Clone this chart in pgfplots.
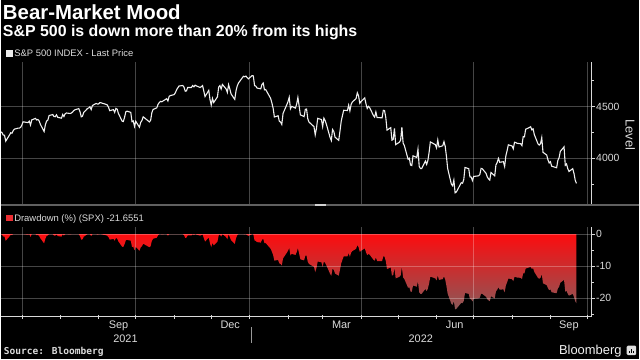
\documentclass[border=0pt]{standalone}
\usepackage{fontspec}
\setmainfont{Liberation Sans}
\newfontfamily\srcfont{DejaVu Sans Mono}
\usepackage{pgfplots}
\usepackage{pgfplotstable}
\pgfplotsset{compat=1.18}
\definecolor{txt}{gray}{0.86}
\definecolor{axc}{gray}{0.85}
\definecolor{ddtop}{RGB}{252,12,14}
\definecolor{ddbot}{RGB}{140,88,88}
\definecolor{ddleg}{RGB}{235,45,50}

\pgfplotstableread{
d p dd
-201 4255 0
-200 4247 -0.19
-199 4224 -0.73
-198 4222 -0.78
-197 4166 -2.09
-194 4224 -0.73
-193 4246 -0.21
-192 4242 -0.31
-191 4266 0
-190 4281 0
-187 4291 0
-186 4291 0
-185 4298 0
-184 4320 0
-183 4352 0
-179 4344 -0.18
-178 4358 0
-177 4320 -0.87
-176 4370 0
-173 4385 0
-172 4369 -0.36
-171 4374 -0.25
-170 4360 -0.57
-169 4327 -1.32
-166 4258 -2.90
-165 4323 -1.41
-164 4359 -0.59
-163 4368 -0.39
-162 4412 0
-159 4422 0
-158 4402 -0.45
-157 4401 -0.47
-156 4419 -0.07
-155 4395 -0.61
-152 4387 -0.79
-151 4423 0
-150 4403 -0.45
-149 4429 0
-148 4437 0
-145 4432 -0.11
-144 4436 -0.02
-143 4447 0
-142 4460 0
-141 4468 0
-138 4479 0
-137 4449 -0.67
-136 4400 -1.76
-135 4406 -1.63
-134 4442 -0.83
-131 4480 0
-130 4486 0
-129 4497 0
-128 4470 -0.60
-127 4509 0
-124 4529 0
-123 4523 -0.13
-122 4524 -0.11
-121 4537 0
-120 4535 -0.04
-116 4520 -0.37
-115 4514 -0.51
-114 4493 -0.97
-113 4459 -1.72
-110 4469 -1.50
-109 4443 -2.07
-108 4481 -1.23
-107 4474 -1.39
-106 4433 -2.29
-103 4358 -3.95
-102 4355 -4.01
-101 4396 -3.11
-100 4449 -1.94
-99 4455 -1.81
-96 4443 -2.07
-95 4353 -4.06
-94 4360 -3.90
-93 4308 -5.05
-92 4357 -3.97
-89 4300 -5.22
-88 4346 -4.21
-87 4364 -3.81
-86 4400 -3.02
-85 4391 -3.22
-82 4361 -3.88
-81 4351 -4.10
-80 4364 -3.81
-79 4438 -2.18
-78 4471 -1.45
-75 4486 -1.12
-74 4520 -0.37
-73 4537 0
-72 4549 0
-71 4545 -0.09
-68 4567 0
-67 4575 0
-66 4552 -0.50
-65 4597 0
-64 4605 0
-61 4614 0
-60 4631 0
-59 4660 0
-58 4680 0
-57 4697 0
-54 4702 0
-53 4686 -0.34
-52 4647 -1.17
-51 4650 -1.11
-50 4683 -0.40
-47 4683 -0.40
-46 4701 -0.02
-45 4689 -0.28
-44 4705 0
-43 4698 -0.15
-40 4683 -0.47
-39 4691 -0.30
-38 4701 -0.09
-36 4595 -2.34
-33 4655 -1.06
-32 4567 -2.93
-31 4513 -4.08
-30 4577 -2.72
-29 4538 -3.55
-26 4592 -2.40
-25 4686 -0.40
-24 4701 -0.09
-23 4668 -0.79
-22 4712 0
-19 4669 -0.91
-18 4635 -1.63
-17 4710 -0.04
-16 4669 -0.91
-15 4621 -1.93
-12 4568 -3.06
-11 4649 -1.34
-10 4697 -0.32
-9 4726 0
-5 4791 0
-4 4786 -0.10
-3 4793 0
-2 4778 -0.31
-1 4766 -0.56
2 4797 0
3 4794 -0.06
4 4701 -2.00
5 4696 -2.11
6 4677 -2.50
9 4670 -2.65
10 4713 -1.75
11 4726 -1.48
12 4660 -2.86
13 4663 -2.79
17 4577 -4.59
18 4533 -5.50
19 4483 -6.55
20 4398 -8.32
23 4410 -8.07
24 4357 -9.17
25 4350 -9.32
26 4326 -9.82
27 4432 -7.61
30 4516 -5.86
31 4546 -5.23
32 4589 -4.34
33 4477 -6.67
34 4501 -6.17
37 4484 -6.52
38 4522 -5.73
39 4587 -4.38
40 4504 -6.11
41 4419 -7.88
44 4402 -8.23
45 4472 -6.78
46 4475 -6.71
47 4380 -8.69
48 4349 -9.34
52 4305 -10.26
53 4226 -11.90
54 4288 -10.61
55 4385 -8.59
58 4374 -8.82
59 4306 -10.24
60 4387 -8.55
61 4364 -9.03
62 4329 -9.76
65 4201 -12.42
66 4171 -13.05
67 4278 -10.82
68 4260 -11.19
69 4204 -12.36
72 4173 -13.01
73 4262 -11.15
74 4358 -9.15
75 4412 -8.03
76 4463 -6.96
79 4461 -7.00
80 4512 -5.94
81 4457 -7.09
82 4520 -5.77
83 4543 -5.30
86 4576 -4.61
87 4632 -3.44
88 4603 -4.04
89 4530 -5.57
90 4546 -5.23
93 4583 -4.46
94 4525 -5.67
95 4481 -6.59
96 4501 -6.17
97 4488 -6.44
100 4413 -8.01
101 4397 -8.34
102 4447 -7.30
103 4392 -8.44
107 4391 -8.46
108 4463 -6.96
109 4460 -7.03
110 4394 -8.40
111 4272 -10.94
114 4296 -10.44
115 4175 -12.97
116 4183 -12.80
117 4288 -10.61
118 4132 -13.86
121 4155 -13.38
122 4175 -12.97
123 4300 -10.36
124 4147 -13.55
125 4123 -14.05
128 3991 -16.80
129 4001 -16.59
130 3935 -17.97
131 3930 -18.07
132 4024 -16.11
135 4008 -16.45
136 4088 -14.78
137 3923 -18.22
138 3901 -18.68
139 3901 -18.68
142 3974 -17.16
143 3941 -17.84
144 3979 -17.05
145 4058 -15.40
146 4158 -13.32
150 4132 -13.86
151 4101 -14.51
152 4177 -12.92
153 4109 -14.34
156 4121 -14.09
157 4161 -13.26
158 4116 -14.20
159 4018 -16.24
160 3901 -18.68
163 3750 -21.83
164 3735 -22.14
165 3790 -20.99
166 3667 -23.56
167 3675 -23.39
171 3765 -21.51
172 3760 -21.62
173 3796 -20.87
174 3912 -18.45
177 3900 -18.70
178 3821 -20.35
179 3819 -20.39
180 3785 -21.09
181 3825 -20.26
185 3831 -20.14
186 3845 -19.84
187 3903 -18.64
188 3899 -18.72
191 3855 -19.64
192 3819 -20.39
193 3802 -20.74
194 3790 -20.99
195 3863 -19.47
198 3831 -20.14
199 3937 -17.93
200 3960 -17.45
201 3999 -16.64
202 3962 -17.41
205 3967 -17.30
206 3921 -18.26
207 4024 -16.11
208 4073 -15.09
209 4130 -13.90
212 4119 -14.13
213 4091 -14.72
214 4155 -13.38
215 4152 -13.45
216 4145 -13.59
219 4140 -13.70
220 4122 -14.07
221 4210 -12.24
222 4207 -12.30
223 4280 -10.78
226 4297 -10.42
227 4305 -10.26
228 4274 -10.90
229 4284 -10.69
230 4228 -11.86
233 4138 -13.74
234 4128 -13.95
235 4141 -13.68
236 4199 -12.47
237 4058 -15.41
240 4031 -15.97
241 3986 -16.91
242 3955 -17.55
243 3967 -17.30
244 3924 -18.20
248 3909 -18.51
249 3980 -17.03
250 4006 -16.49
251 4067 -15.22
254 4110 -14.32
255 3932 -18.03
256 3946 -17.74
257 3901 -18.68
258 3873 -19.26
261 3900 -18.70
262 3856 -19.62
263 3790 -20.99
264 3758 -21.66
}\spx

\pgfplotsset{
  bbg/.style={
    scale only axis,
    width=591.7bp,
    xmin=-201, xmax=275.8,
    axis y line*=right,
    axis x line*=bottom,
    axis line style={axc, line width=0.7bp},
    tick style={axc, line width=0.6bp},
    major tick length=4bp,
    minor tick length=2.5bp,
    grid style={white, opacity=0.27, line width=0.5bp},
    /pgf/number format/assume math mode=true,
    yticklabel style={text=txt, font=\fontsize{10.5}{12}\selectfont, inner sep=1bp},
    ytick align=outside,
  }
}

\begin{document}
\begin{tikzpicture}[x=1bp,y=1bp]
\fill[black] (0bp,0bp) rectangle (640bp,360bp);

% titles
\node[anchor=base west, inner sep=0, text=white, font=\fontsize{20.5}{24}\selectfont\bfseries] at (2bp,340bp) {Bear-Market Mood};
\node[anchor=base west, inner sep=0, text=white, font=\fontsize{16}{19}\selectfont\bfseries] at (2bp,323bp) {S\&P 500 is down more than 20\% from its highs};

% legend 1
\fill[white!92!black] (5bp,302.8bp) rectangle (11.8bp,309.5bp);
\node[anchor=base west, inner sep=0, text=txt, font=\fontsize{9.5}{11}\selectfont] at (13.3bp,303bp) {S\&P 500 INDEX - Last Price};

% top panel
\begin{axis}[bbg,
  at={(0bp,154.3bp)}, anchor=south west,
  height=143.7bp,
  ymin=3548, ymax=4930,
  x axis line style={draw=none},
  xtick={-184,-92,0,90,181,273},
  xticklabels={},
  major x tick style={draw=none},
  xmajorgrids, ymajorgrids,
  ytick={4000,4500}, yticklabels={4000,4500},
  minor ytick={3750,4250,4750},
]
\addplot[white!94!black, line width=1.1bp] table[x=d,y=p] {\spx};
\end{axis}

% divider
\draw[gray!75!black, line width=1.6bp] (0bp,154.3bp) -- (640bp,154.3bp);
\draw[gray!35!white, line width=1.6bp] (315bp,154.3bp) -- (326bp,154.3bp);

% legend 2
\fill[ddleg] (5bp,138bp) rectangle (11.8bp,144.7bp);
\node[anchor=base west, inner sep=0, text=txt, font=\fontsize{9.5}{11}\selectfont] at (13.3bp,138.2bp) {Drawdown (\%) (SPX) -21.6551};

% bottom panel
\begin{axis}[bbg,
  at={(0bp,42.7bp)}, anchor=south west,
  height=89.3bp,
  ymin=-25.8, ymax=2.09,
  axis on top,
  xtick={-184,-92,0,90,181,273},
  minor xtick={-153,-122,-61,-31,31,59,120,151,212,243},
  xticklabels={},
  xtick align=center,
  minor x tick style={/pgfplots/minor tick length=4bp},
  xmajorgrids, ymajorgrids,
  ytick={-20,-10,0}, yticklabels={-20,-10,0},
  minor ytick={-25,-15,-5},
]
\addplot[draw=none, top color=ddtop, bottom color=ddbot] table[x=d,y=dd] {\spx} \closedcycle;
\end{axis}

% month and year labels
\begin{scope}[every node/.style={anchor=base, inner sep=0, text=txt, font=\fontsize{11}{13}\selectfont}]
\node at (118bp,30.7bp) {Sep};
\node at (230bp,30.7bp) {Dec};
\node at (341.5bp,30.7bp) {Mar};
\node at (455bp,30.7bp) {Jun};
\node at (569.5bp,30.7bp) {Sep};
\node at (125bp,17bp) {2021};
\node at (421bp,17bp) {2022};
\end{scope}
\draw[gray!80!white, line width=0.6bp] (250.7bp,32bp) -- (250.7bp,16.5bp);

% right axis title
\node[rotate=-90, inner sep=0, text=txt, font=\fontsize{13}{15}\selectfont] at (631bp,225bp) {Level};

% footer
\node[anchor=base west, inner sep=0, text=txt, font=\srcfont\bfseries\fontsize{9.6}{11}\selectfont] at (3bp,5bp) {Source: Bloomberg};
\node[anchor=base east, inner sep=0, text=white!95!black, font=\fontsize{13}{15}\selectfont] at (622.5bp,5bp) {Bloomberg};
\fill[white!88!black, rounded corners=1.2bp] (627.5bp,4bp) rectangle (637bp,13.5bp);
\fill[black] (629.5bp,5.8bp) rectangle (630.6bp,8.5bp);
\fill[black] (631.6bp,5.8bp) rectangle (632.7bp,10.5bp);
\fill[black] (633.7bp,5.8bp) rectangle (634.8bp,7.8bp);
\end{tikzpicture}
\end{document}
